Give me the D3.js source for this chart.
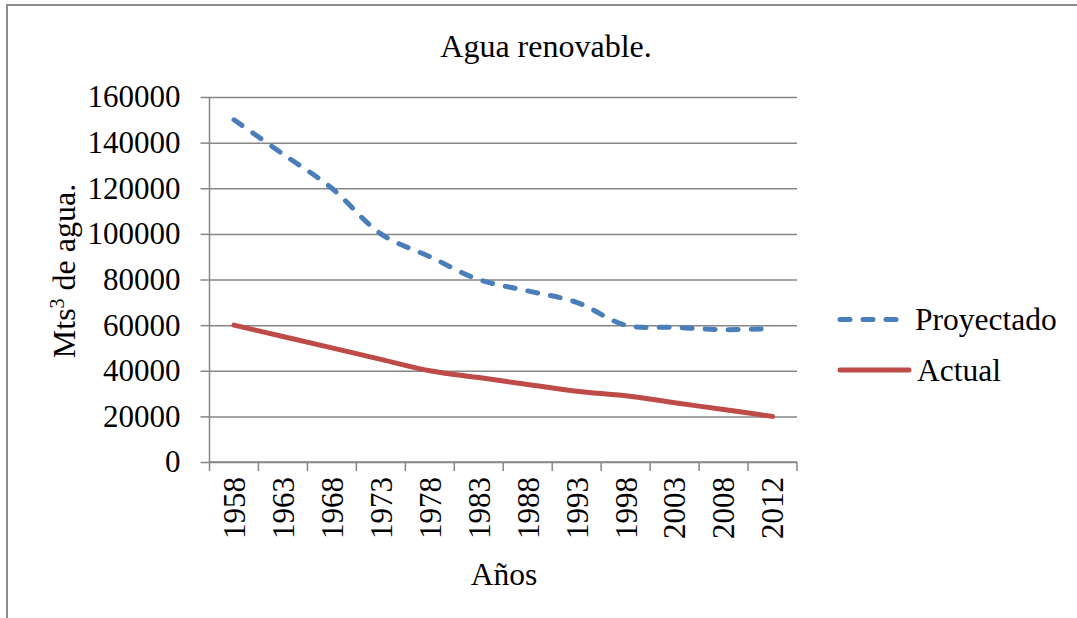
<!DOCTYPE html>
<html>
<head>
<meta charset="utf-8">
<script src="https://cdn.jsdelivr.net/npm/d3@7"></script>
<style>
  html, body { margin: 0; padding: 0; background: #fff; }
  svg { display: block; }
  text { font-family: "Liberation Serif", "Times New Roman", serif; fill: #000; }
</style>
</head>
<body>
<svg id="chart" width="1077" height="618"></svg>
<script>
const categories = ["1958","1963","1968","1973","1978","1983","1988","1993","1998","2003","2008","2012"];
const proyectado = [150000, 135000, 120000, 100000, 90000, 80000, 75000, 70000, 60000, 59000, 58000, 58500];
const actual     = [60000, 55000, 50000, 45000, 40000, 37000, 34000, 31000, 29000, 26000, 23000, 20000];
const yTicks = [0, 20000, 40000, 60000, 80000, 100000, 120000, 140000, 160000];
const seriesNames = ["Proyectado", "Actual"];

(function () {
const svg = d3.select("#chart");
const W = 1077, H = 618;
const pL = 209.5, pR = 797, pT = 97, pB = 462;
const serif = "'Liberation Serif', 'Times New Roman', serif";

// outer border
svg.append("rect").attr("x", 7).attr("y", 5).attr("width", W + 10).attr("height", H + 10)
  .attr("fill", "#fff").attr("stroke", "#8c8c8c").attr("stroke-width", 2);

const x = d3.scaleBand().domain(categories).range([pL, pR]).padding(0);
const y = d3.scaleLinear().domain([0, 160000]).range([pB, pT]);
const cx = c => x(c) + x.bandwidth() / 2;

// gridlines
svg.append("g").attr("transform", `translate(${pL},0)`)
  .call(d3.axisLeft(y).tickValues(yTicks).tickSize(-(pR - pL)).tickFormat(""))
  .call(g => g.select(".domain").remove())
  .call(g => g.selectAll("line").attr("stroke", "#868686").attr("stroke-width", 1.5));

// y axis
const yAxis = svg.append("g").attr("transform", `translate(${pL},0)`)
  .call(d3.axisLeft(y).tickValues(yTicks).tickSize(9).tickPadding(20).tickFormat(d3.format("d")));
yAxis.attr("font-family", null).attr("font-size", null);
yAxis.select(".domain").attr("stroke", "#868686").attr("stroke-width", 1.5).attr("d", `M0,${pT}V${pB}`);
yAxis.selectAll("line").attr("stroke", "#868686").attr("stroke-width", 1.5);
yAxis.selectAll("text").style("font-family", serif).style("font-size", "31px").attr("dy", "0.32em");

// x axis
const xAxis = svg.append("g").attr("transform", `translate(0,${pB})`)
  .call(d3.axisBottom(x).tickSize(0).tickPadding(0));
xAxis.attr("font-family", null).attr("font-size", null);
xAxis.select(".domain").attr("stroke", "#868686").attr("stroke-width", 1.5).attr("d", `M${pL},0H${pR}`);
xAxis.selectAll(".tick text")
  .style("font-family", serif).style("font-size", "31px")
  .attr("transform", "rotate(-90)")
  .attr("x", -15).attr("y", 0).attr("dy", "0.35em")
  .attr("text-anchor", "end");
// tick marks at category boundaries
const boundaries = categories.map(c => x(c)).concat([x(categories[categories.length - 1]) + x.bandwidth()]);
svg.append("g").selectAll("line").data(boundaries).join("line")
  .attr("x1", d => d).attr("x2", d => d).attr("y1", pB).attr("y2", pB + 9)
  .attr("stroke", "#868686").attr("stroke-width", 1.5);

// lines
const line = d3.line().x((d, i) => cx(categories[i])).y(d => y(d)).curve(d3.curveCatmullRom.alpha(0.5));
svg.append("path").datum(actual).attr("d", line)
  .attr("fill", "none").attr("stroke", "#BE4B48").attr("stroke-width", 5).attr("stroke-linecap", "round");
svg.append("path").datum(proyectado).attr("d", line)
  .attr("fill", "none").attr("stroke", "#4A7EBB").attr("stroke-width", 5)
  .attr("stroke-linecap", "round").attr("stroke-dasharray", "10,13");

// title
svg.append("text").attr("x", 546).attr("y", 57).attr("text-anchor", "middle")
  .style("font-family", serif).style("font-size", "32px").text("Agua renovable.");

// axis titles
svg.append("text").attr("x", 504).attr("y", 585).attr("text-anchor", "middle")
  .style("font-family", serif).style("font-size", "31.5px").text("Años");
const yt = svg.append("text").attr("transform", "translate(75,271) rotate(-90)")
  .attr("text-anchor", "middle").style("font-family", serif).style("font-size", "32px");
yt.append("tspan").text("Mts");
yt.append("tspan").attr("baseline-shift", "super").style("font-size", "20px").text("3");
yt.append("tspan").text(" de agua.");

// legend
const legend = svg.append("g");
legend.append("line").attr("x1", 840).attr("x2", 900).attr("y1", 319.5).attr("y2", 319.5)
  .attr("stroke", "#4A7EBB").attr("stroke-width", 5).attr("stroke-linecap", "round").attr("stroke-dasharray", "10,13");
legend.append("text").attr("x", 915).attr("y", 329.5).style("font-family", serif).style("font-size", "31.5px").text(seriesNames[0]);
legend.append("line").attr("x1", 840).attr("x2", 909).attr("y1", 370).attr("y2", 370)
  .attr("stroke", "#BE4B48").attr("stroke-width", 5).attr("stroke-linecap", "round");
legend.append("text").attr("x", 917).attr("y", 381).style("font-family", serif).style("font-size", "31.5px").text(seriesNames[1]);
})();
</script>
</body>
</html>
